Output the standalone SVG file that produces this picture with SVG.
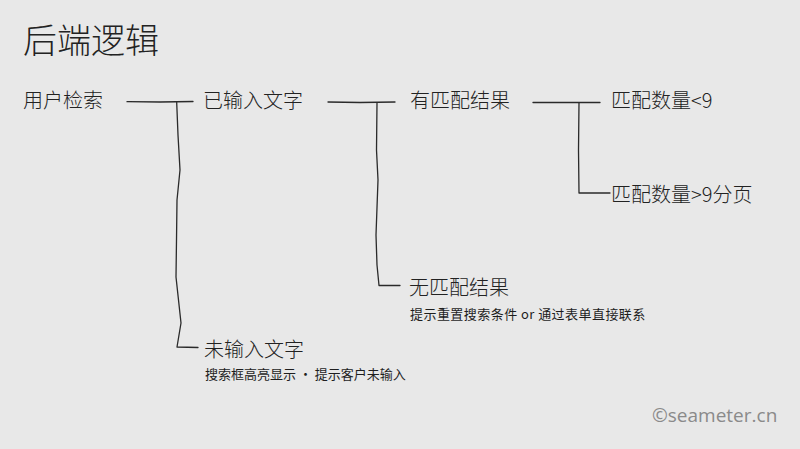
<svg xmlns="http://www.w3.org/2000/svg" width="800" height="449" viewBox="0 0 800 449">
<style>
.t{font-family:"Noto Sans CJK SC","Noto Sans",sans-serif;fill:#222;}
.n{font-size:20px;font-weight:300;}
.s{font-size:13px;fill:#1e1e1e;font-weight:400;}
.c{fill:none;stroke:#2a2a2a;stroke-width:1.3;stroke-linejoin:round;stroke-linecap:round;}
</style>
<rect width="800" height="449" fill="#e8e8e8"/>
<text class="t" x="23" y="53" font-size="34" font-weight="300">后端逻辑</text>
<g id="connectors">
<path class="c" d="M127 101.7 L160 102 L193 101.5"/>
<path class="c" d="M176.7 102.5 L178 135 L180 170 L177 200 L176.5 240 L176 277 L181 323 L177 347 L198 347.5"/>
<path class="c" d="M328 102 L360 102.5 L395 102"/>
<path class="c" d="M377 103 L376.5 150 L378 180 L376 235 L377 265 L379 285.5 L400 285.5"/>
<path class="c" d="M533 102.5 L570 102.5 L600 102.5"/>
<path class="c" d="M579 102.7 L578.5 150 L579 193 L610 193"/>
</g>
<g id="node-user-search"><text class="t n" x="23" y="108">用户检索</text></g>
<g id="node-input"><text class="t n" x="203" y="108">已输入文字</text></g>
<g id="node-match"><text class="t n" x="410" y="108">有匹配结果</text></g>
<g id="node-lt9"><text class="t n" x="611" y="108">匹配数量&lt;9</text></g>
<g id="node-gt9"><text class="t n" x="611" y="202">匹配数量&gt;9分页</text></g>
<g id="node-nomatch"><text class="t n" x="409" y="295">无匹配结果</text><text class="t s" x="410" y="319" letter-spacing="0.45">提示重置搜索条件 or 通过表单直接联系</text></g>
<g id="node-noinput"><text class="t n" x="204" y="357">未输入文字</text><text class="t s" x="205" y="379">搜索框高亮显示 · 提示客户未输入</text></g>
<text x="652" y="422" font-family="'Open Sans','Noto Sans',sans-serif" font-size="19" fill="#8a8a8a">©seameter.cn</text>
</svg>
